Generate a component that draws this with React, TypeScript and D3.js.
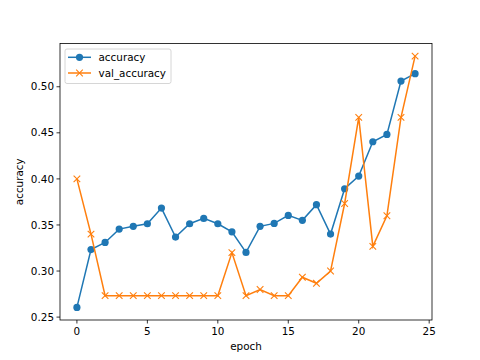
import React from "react";
import * as d3 from "d3";

const epochs: number[] = Array.from({ length: 25 }, (_, i) => i);
const accuracy: number[] = [
  0.2605, 0.3233, 0.331, 0.3455, 0.3485, 0.3513, 0.3683, 0.3369, 0.3513, 0.3571,
  0.3513, 0.3426, 0.3202, 0.3485, 0.3517, 0.3604, 0.355, 0.372, 0.3401, 0.3893,
  0.4031, 0.4403, 0.4483, 0.5062, 0.5142,
];
const valAccuracy: number[] = [
  0.4, 0.34, 0.2733, 0.2733, 0.2733, 0.2733, 0.2733, 0.2733, 0.2733, 0.2733,
  0.2733, 0.32, 0.2733, 0.28, 0.2733, 0.2733, 0.2933, 0.2867, 0.3, 0.3733,
  0.4667, 0.3267, 0.36, 0.4667, 0.5333,
];
const xTicks: number[] = [0, 5, 10, 15, 20, 25];
const yTicks: number[] = [0.25, 0.3, 0.35, 0.4, 0.45, 0.5];
const seriesNames: string[] = ["accuracy", "val_accuracy"];

const W = 480;
const H = 360;
const L = 60;
const R = 432;
const T = 43.5;
const B = 320;
const FONT = "DejaVu Sans, sans-serif";
const BLUE = "#1f77b4";
const ORANGE = "#ff7f0e";
const MR = 3.6;
const XR = 3.3;

export default function App() {
  const allY = [...accuracy, ...valAccuracy];
  const yMin = d3.min(allY)!;
  const yMax = d3.max(allY)!;
  const yPad = (yMax - yMin) * 0.05;
  const x = d3.scaleLinear().domain([-1.2, 25.2]).range([L, R]);
  const y = d3.scaleLinear().domain([yMin - yPad, yMax + yPad]).range([B, T]);
  const line = d3
    .line<number>()
    .x((_, i) => x(epochs[i]))
    .y((d) => y(d));

  const cross = (cx: number, cy: number, key: string) => (
    <path
      key={key}
      d={`M${cx - XR},${cy - XR}L${cx + XR},${cy + XR}M${cx - XR},${cy + XR}L${cx + XR},${cy - XR}`}
      stroke={ORANGE}
      strokeWidth={1.1}
      fill="none"
    />
  );

  return (
    <svg
      width={W}
      height={H}
      style={{ position: "absolute", left: 0, top: 0, background: "#fff" }}
      fontFamily={FONT}
    >
      <rect x={0} y={0} width={W} height={H} fill="#fff" />
      <path d={line(accuracy) || ""} fill="none" stroke={BLUE} strokeWidth={1.5} />
      {accuracy.map((v, i) => (
        <circle key={"a" + i} cx={x(epochs[i])} cy={y(v)} r={MR} fill={BLUE} />
      ))}
      <path d={line(valAccuracy) || ""} fill="none" stroke={ORANGE} strokeWidth={1.5} />
      {valAccuracy.map((v, i) => cross(x(epochs[i]), y(v), "v" + i))}

      <rect x={L} y={T} width={R - L} height={B - T} fill="none" stroke="#000" strokeWidth={0.8} />

      {xTicks.map((t) => (
        <g key={"x" + t}>
          <line x1={x(t)} x2={x(t)} y1={B} y2={B + 3.5} stroke="#000" strokeWidth={0.8} />
          <text x={x(t)} y={B + 15} textAnchor="middle" fontSize={10.4} fill="#000">
            {t}
          </text>
        </g>
      ))}
      {yTicks.map((t) => (
        <g key={"y" + t}>
          <line x1={L - 3.5} x2={L} y1={y(t)} y2={y(t)} stroke="#000" strokeWidth={0.8} />
          <text x={L - 6} y={y(t)} dy="0.35em" textAnchor="end" fontSize={10.4} fill="#000">
            {t.toFixed(2)}
          </text>
        </g>
      ))}

      <text x={(L + R) / 2} y={350} textAnchor="middle" fontSize={10.4} fill="#000">
        epoch
      </text>
      <text
        transform={`translate(23,${(T + B) / 2}) rotate(-90)`}
        textAnchor="middle"
        fontSize={10.4}
        fill="#000"
      >
        accuracy
      </text>

      <g>
        <rect x={65} y={49} width={106} height={34.5} rx={2} fill="#fff" fillOpacity={0.8} stroke="#ccc" strokeWidth={0.8} />
        <line x1={68} x2={91} y1={57.3} y2={57.3} stroke={BLUE} strokeWidth={1.5} />
        <circle cx={79.5} cy={57.3} r={MR} fill={BLUE} />
        <text x={98.5} y={57.3} dy="0.35em" fontSize={10.4} fill="#000">
          {seriesNames[0]}
        </text>
        <line x1={68} x2={91} y1={73} y2={73} stroke={ORANGE} strokeWidth={1.5} />
        {cross(79.5, 73, "lg")}
        <text x={98.5} y={73} dy="0.35em" fontSize={10.4} fill="#000">
          {seriesNames[1]}
        </text>
      </g>
    </svg>
  );
}
